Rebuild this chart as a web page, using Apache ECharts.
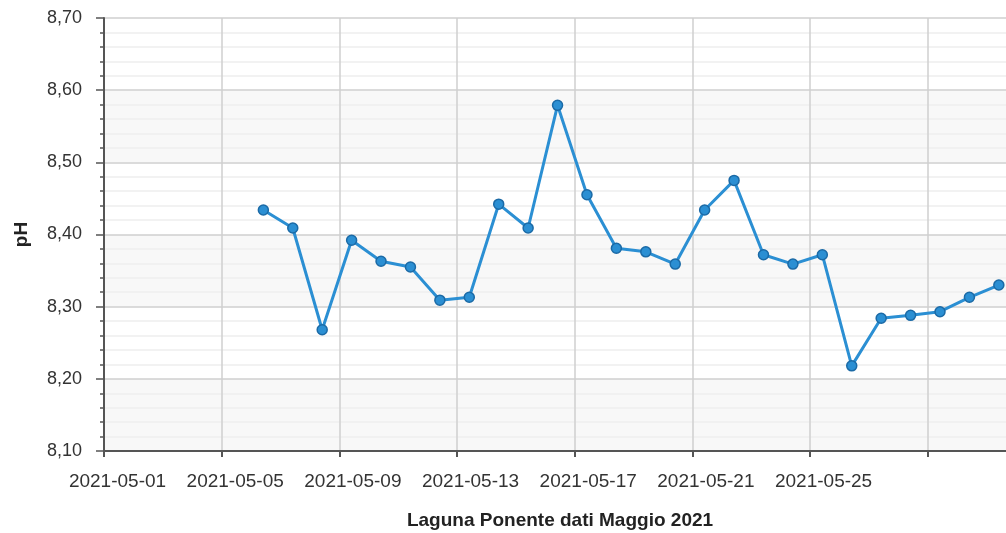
<!DOCTYPE html>
<html>
<head>
<meta charset="utf-8">
<title>Laguna Ponente pH</title>
<script src="https://cdn.jsdelivr.net/npm/echarts@6/dist/echarts.min.js"></script>
<style>
  html, body { margin: 0; padding: 0; background: #fff; }
  #chart { width: 1006px; height: 533px; }
</style>
</head>
<body>
<div id="chart"></div>
<script>
// misure giornaliere, maggio 2021
const dates = [
  '2021-05-06', '2021-05-07', '2021-05-08', '2021-05-09', '2021-05-10',
  '2021-05-11', '2021-05-12', '2021-05-13', '2021-05-14', '2021-05-15',
  '2021-05-16', '2021-05-17', '2021-05-18', '2021-05-19', '2021-05-20',
  '2021-05-21', '2021-05-22', '2021-05-23', '2021-05-24', '2021-05-25',
  '2021-05-26', '2021-05-27', '2021-05-28', '2021-05-29', '2021-05-30',
  '2021-05-31'
]
const phValues = [
  8.434, 8.409, 8.268, 8.392, 8.363,
  8.355, 8.309, 8.313, 8.442, 8.409,
  8.579, 8.455, 8.381, 8.376, 8.359,
  8.434, 8.475, 8.372, 8.359, 8.372,
  8.218, 8.284, 8.288, 8.293, 8.313,
  8.330
]
const xTickLabels = ['2021-05-01', '2021-05-05', '2021-05-09', '2021-05-13', '2021-05-17', '2021-05-21', '2021-05-25']
const measureTime = 'T10:00:00Z'

const DAY = 86400000
const xMin = Date.parse('2021-05-01T00:00:00Z')
const xMax = Date.parse('2021-06-01T00:00:00Z')

const data = []
for (let i = 0; i < dates.length; i++) {
  data.push([Date.parse(dates[i] + measureTime), phValues[i]])
}

function fmtDate(v) {
  const d = new Date(v)
  const mm = String(d.getUTCMonth() + 1).padStart(2, '0')
  const dd = String(d.getUTCDate()).padStart(2, '0')
  return d.getUTCFullYear() + '-' + mm + '-' + dd
}

const chart = echarts.init(document.getElementById('chart'))
chart.setOption({
  backgroundColor: '#fff',
  animation: false,
  textStyle: { fontFamily: '"Liberation Sans", Arial, sans-serif' },
  grid: { left: 104, top: 18, width: 912, height: 433, outerBoundsMode: 'none', containLabel: false },
  xAxis: {
    type: 'value',
    min: xMin,
    max: xMax,
    interval: 4 * DAY,
    name: 'Laguna Ponente dati Maggio 2021',
    nameLocation: 'middle',
    nameGap: 60,
    nameTextStyle: { fontWeight: 'bold', fontSize: 19, color: '#222' },
    axisLine: { lineStyle: { color: '#555', width: 2 } },
    axisTick: { length: 6, lineStyle: { color: '#555', width: 2 } },
    axisLabel: {
      fontSize: 19,
      color: '#333',
      margin: 21,
      padding: [0, 0, 0, 27],
      showMaxLabel: false,
      formatter: function (v) {
        const s = fmtDate(v)
        return xTickLabels.indexOf(s) >= 0 ? s : ''
      }
    },
    splitLine: { show: true, lineStyle: { color: '#cfcfcf', width: 1.5 } }
  },
  yAxis: {
    type: 'value',
    min: 8.1,
    max: 8.7,
    interval: 0.1,
    name: 'pH',
    nameLocation: 'middle',
    nameGap: 73,
    nameTextStyle: { fontWeight: 'bold', fontSize: 19, color: '#222' },
    axisLine: { show: true, lineStyle: { color: '#555', width: 2 } },
    axisTick: { show: true, length: 8, lineStyle: { color: '#555', width: 1.5 } },
    minorTick: { show: true, splitNumber: 5, length: 4, lineStyle: { color: '#555', width: 1.5 } },
    axisLabel: {
      fontSize: 18,
      color: '#333',
      margin: 22,
      formatter: function (v) { return v.toFixed(2).replace('.', ',') }
    },
    splitLine: { show: true, lineStyle: { color: '#cfcfcf', width: 1.5 } },
    minorSplitLine: { show: true, lineStyle: { color: '#eeeeee', width: 1.5 } },
    splitArea: { show: true, areaStyle: { color: ['#f8f8f8', '#ffffff'] } }
  },
  series: [{
    type: 'line',
    name: 'pH',
    data: data,
    symbol: 'circle',
    symbolSize: 10,
    lineStyle: { color: '#2b8fd3', width: 3 },
    itemStyle: { color: '#2b8fd3', borderColor: '#1b6aa6', borderWidth: 1.5 }
  }]
})
</script>
</body>
</html>
